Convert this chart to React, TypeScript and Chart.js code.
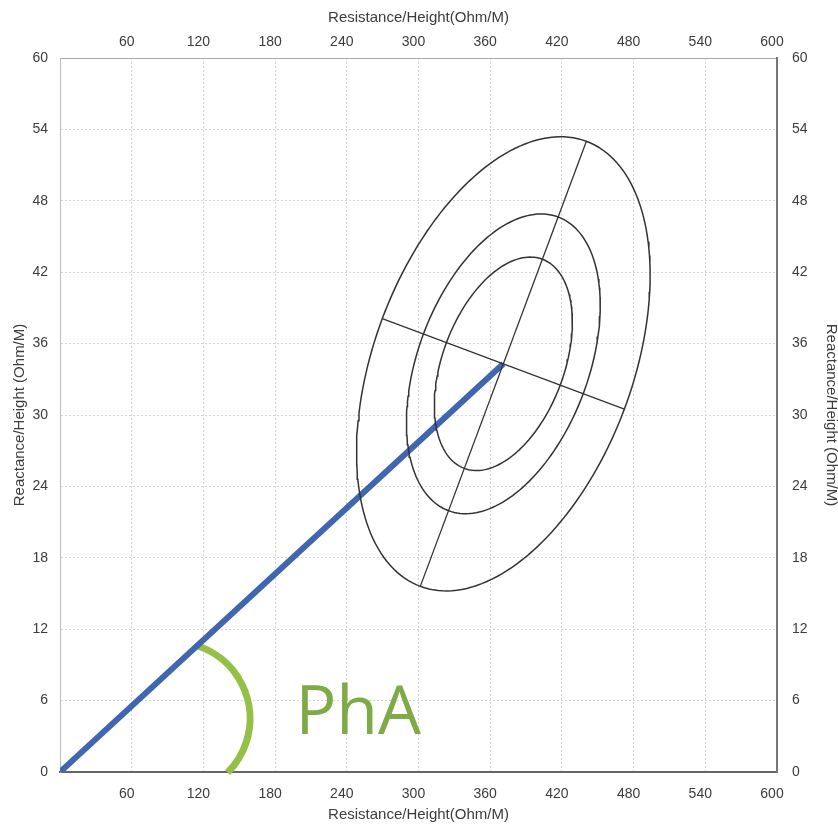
import React, { useEffect, useRef } from 'react';
import { Chart, registerables } from 'chart.js';

Chart.register(...registerables);

// ---- data ----
const X_TICKS = [0, 60, 120, 180, 240, 300, 360, 420, 480, 540, 600];
const Y_TICKS = [0, 6, 12, 18, 24, 30, 36, 42, 48, 54, 60];
const X_TITLE = 'Resistance/Height(Ohm/M)';
const Y_TITLE = 'Reactance/Height (Ohm/M)';

// impedance vector (R/H, Xc/H)
const VECTOR_R = [0, 371];
const VECTOR_X = [0, 34.3];

// tolerance ellipses: centre, semi-axis vectors (R, X components) and relative sizes
const ELLIPSE_CENTER = [371, 34.3];
const ELLIPSE_MAJOR = [69.5, 18.7];
const ELLIPSE_MINOR = [101.3, -3.8];
const ELLIPSE_SIZES = [1, 0.66, 0.47];

// phase-angle marker
const PHA_LABEL = 'PhA';
const PHA_ARC_CENTER = [95, 4.5];
const PHA_ARC_RADIUS_R = 64;
const PHA_ARC_ANGLES = [-72, 45];
const PHA_LABEL_POS = [197, 3.2];

// ---- styles ----
const TICK_FONT = { family: '"Liberation Sans", Arial, sans-serif', size: 14 };
const TITLE_FONT = { family: '"Liberation Sans", Arial, sans-serif', size: 15 };
const TEXT_COLOR = '#3c3c3c';
const GRID_COLOR = '#d6d6d6';
const BLUE = '#4166b0';
const GREEN_ARC = '#95c046';
const GREEN_TEXT = '#7eab47';
const ELLIPSE_COLOR = '#333';

function ellipsePoints(size: number) {
  const pts: { x: number; y: number }[] = [];
  for (let d = 0; d <= 360; d += 2) {
    const t = (d * Math.PI) / 180;
    pts.push({
      x: ELLIPSE_CENTER[0] + size * (ELLIPSE_MAJOR[0] * Math.cos(t) + ELLIPSE_MINOR[0] * Math.sin(t)),
      y: ELLIPSE_CENTER[1] + size * (ELLIPSE_MAJOR[1] * Math.cos(t) + ELLIPSE_MINOR[1] * Math.sin(t)),
    });
  }
  return pts;
}

function axisLine(v: number[]) {
  return [
    { x: ELLIPSE_CENTER[0] - v[0], y: ELLIPSE_CENTER[1] - v[1] },
    { x: ELLIPSE_CENTER[0] + v[0], y: ELLIPSE_CENTER[1] + v[1] },
  ];
}

const phaPlugin = {
  id: 'phaMarker',
  beforeDatasetsDraw(chart: any) {
    const { ctx, scales } = chart;
    const x = scales.x;
    const y = scales.y;
    const cx = x.getPixelForValue(PHA_ARC_CENTER[0]);
    const cy = y.getPixelForValue(PHA_ARC_CENTER[1]);
    const r = x.getPixelForValue(PHA_ARC_RADIUS_R) - x.getPixelForValue(0);
    ctx.save();
    ctx.strokeStyle = GREEN_ARC;
    ctx.lineWidth = 7;
    ctx.beginPath();
    ctx.arc(cx, cy, r, (PHA_ARC_ANGLES[0] * Math.PI) / 180, (PHA_ARC_ANGLES[1] * Math.PI) / 180);
    ctx.stroke();
    ctx.fillStyle = GREEN_TEXT;
    ctx.font = '68px "Open Sans", sans-serif';
    ctx.textAlign = 'left';
    ctx.textBaseline = 'alphabetic';
    ctx.fillText(PHA_LABEL, x.getPixelForValue(PHA_LABEL_POS[0]), y.getPixelForValue(PHA_LABEL_POS[1]));
    ctx.restore();
  },
};

export default function App() {
  const ref = useRef<HTMLCanvasElement>(null);

  useEffect(() => {
    document.body.style.margin = '0';
    const canvas = ref.current;
    if (!canvas) return;

    const lineDs = (data: any[], color: string, width: number) => ({
      type: 'scatter' as const,
      data,
      showLine: true,
      borderColor: color,
      backgroundColor: color,
      borderWidth: width,
      pointRadius: 0,
      tension: 0,
      xAxisID: 'x',
      yAxisID: 'y',
    });

    const datasets: any[] = [
      ...ELLIPSE_SIZES.map((s) => lineDs(ellipsePoints(s), ELLIPSE_COLOR, 1.5)),
      lineDs(axisLine(ELLIPSE_MAJOR), ELLIPSE_COLOR, 1.3),
      lineDs(axisLine(ELLIPSE_MINOR), ELLIPSE_COLOR, 1.3),
      lineDs(VECTOR_R.map((r, i) => ({ x: r, y: VECTOR_X[i] })), BLUE, 6),
    ];

    const xTicksFn = (s: any) => {
      s.ticks = X_TICKS.map((v) => ({ value: v }));
    };
    const yTicksFn = (s: any) => {
      s.ticks = Y_TICKS.map((v) => ({ value: v }));
    };
    const xLabel = (v: any) => (v === 0 ? '' : String(v));

    const chart = new Chart(canvas, {
      type: 'scatter',
      data: { datasets },
      plugins: [phaPlugin],
      options: {
        responsive: false,
        animation: false,
        layout: { padding: 0 },
        plugins: { legend: { display: false }, tooltip: { enabled: false } },
        scales: {
          x: {
            type: 'linear',
            position: 'bottom',
            min: 0,
            max: 600,
            afterBuildTicks: xTicksFn,
            afterFit: (s: any) => {
              s.height = 63;
            },
            grid: { color: GRID_COLOR, lineWidth: 1, drawTicks: false },
            border: { color: '#666', width: 2, dash: [2, 2] },
            ticks: { callback: xLabel, padding: 14, labelOffset: -5, font: TICK_FONT, color: TEXT_COLOR, maxRotation: 0, autoSkip: false },
            title: { display: true, text: X_TITLE, font: TITLE_FONT, color: TEXT_COLOR, padding: { top: 0, bottom: 11 } },
          },
          x2: {
            type: 'linear',
            position: 'top',
            min: 0,
            max: 600,
            afterBuildTicks: xTicksFn,
            afterFit: (s: any) => {
              s.height = 58;
            },
            grid: { display: false, drawTicks: false },
            border: { color: '#aaa', width: 1 },
            ticks: { callback: xLabel, padding: 7, labelOffset: -5, font: TICK_FONT, color: TEXT_COLOR, maxRotation: 0, autoSkip: false },
            title: { display: true, text: X_TITLE, font: TITLE_FONT, color: TEXT_COLOR, padding: { top: 9, bottom: 0 } },
          },
          y: {
            type: 'linear',
            position: 'left',
            min: 0,
            max: 60,
            afterBuildTicks: yTicksFn,
            afterFit: (s: any) => {
              s.width = 60;
            },
            grid: { color: GRID_COLOR, lineWidth: 1, drawTicks: false },
            border: { color: '#bbb', width: 1, dash: [2, 2] },
            ticks: { padding: 12, font: TICK_FONT, color: TEXT_COLOR, autoSkip: false },
            title: { display: true, text: Y_TITLE, font: TITLE_FONT, color: TEXT_COLOR, padding: { top: 11, bottom: 0 } },
          },
          y2: {
            type: 'linear',
            position: 'right',
            min: 0,
            max: 60,
            afterBuildTicks: yTicksFn,
            afterFit: (s: any) => {
              s.width = 61;
            },
            grid: { display: false, drawTicks: false },
            border: { color: '#777', width: 2 },
            ticks: { padding: 15, font: TICK_FONT, color: TEXT_COLOR, autoSkip: false },
            title: { display: true, text: Y_TITLE, font: TITLE_FONT, color: TEXT_COLOR, padding: { top: -2, bottom: 0 } },
          },
        },
      } as any,
    });

    return () => chart.destroy();
  }, []);

  return (
    <div style={{ width: 838, height: 835, background: '#fff' }}>
      <canvas ref={ref} width={838} height={835} style={{ display: 'block' }} />
    </div>
  );
}
